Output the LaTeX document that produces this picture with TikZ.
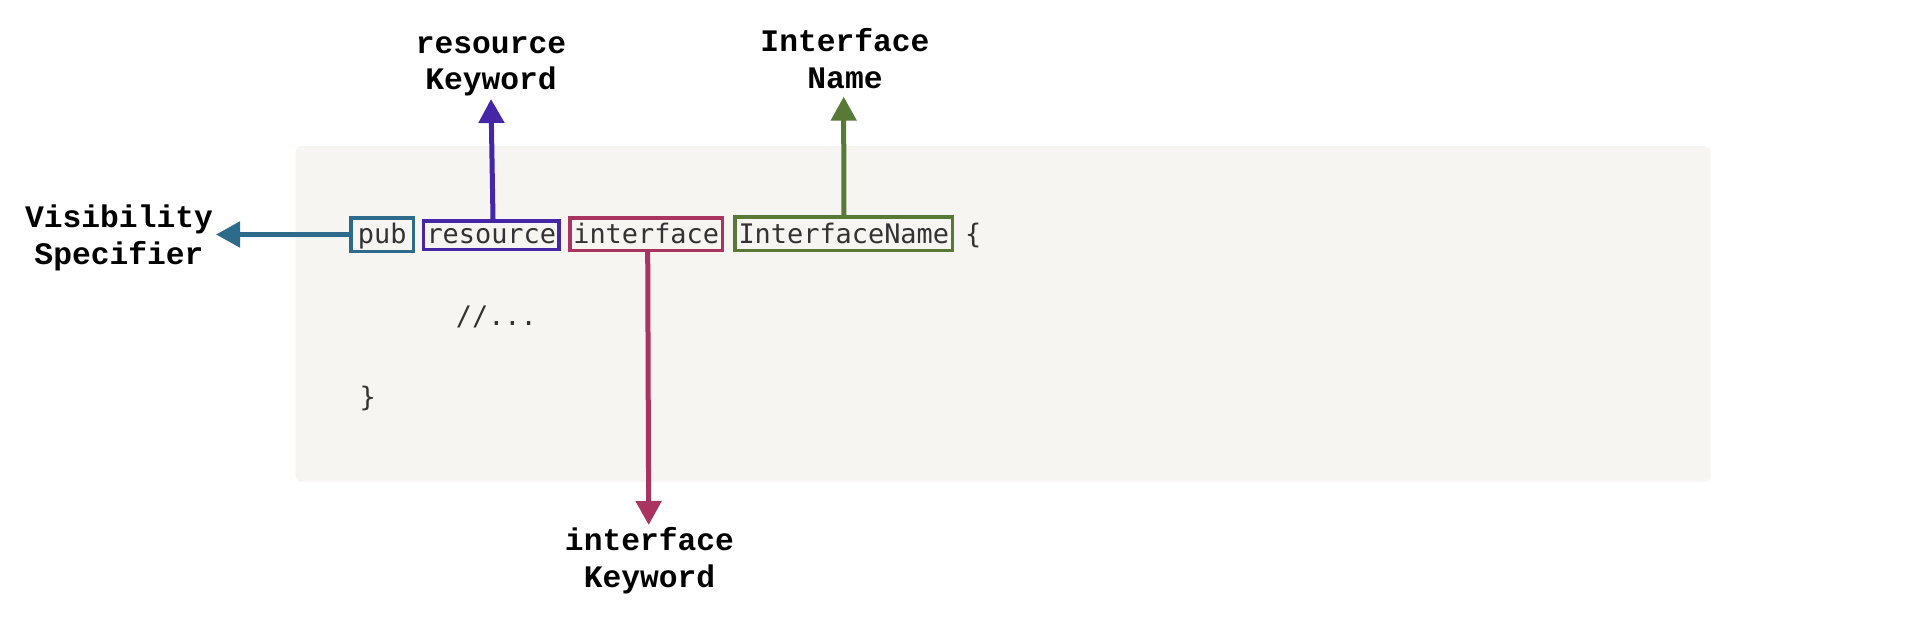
\documentclass[tikz,border=0pt]{standalone}
\usepackage{fontspec}
\usetikzlibrary{arrows.meta}
\newfontfamily\codefont{DejaVu Sans Mono}
\newfontfamily\labelfont{Liberation Mono}
\definecolor{bgc}{HTML}{F6F5F1}
\definecolor{codec}{HTML}{333333}
\definecolor{tealc}{HTML}{2E6A8A}
\definecolor{purplec}{HTML}{4526A6}
\definecolor{magc}{HTML}{A8345F}
\definecolor{greenc}{HTML}{587A36}
\begin{document}
\begin{tikzpicture}[x=1pt,y=-1pt,
  tok/.style={font=\codefont\fontsize{26.9}{30}\selectfont, text=codec, inner sep=0pt, line width=3.5pt, fill=bgc, anchor=base},
  plain/.style={font=\codefont\fontsize{26.9}{30}\selectfont, text=codec, inner sep=0pt, anchor=base west},
  arr/.style={line width=5pt, -{Triangle[length=24pt,width=25pt]}},
  lab/.style={font=\labelfont\bfseries\fontsize{31.3}{36.5}\selectfont, align=center, inner sep=0pt, text=black, anchor=base}]
\useasboundingbox (0,0) rectangle (1909,629);
\fill[bgc, rounded corners=6pt] (295.7,146) rectangle (1710.7,481.7);
% code tokens
\node[tok, draw=tealc, minimum width=62.5pt, text height=25.75pt, text depth=7.75pt] (pub) at (382.2,243.5) {pub};
\node[tok, draw=purplec, minimum width=135.8pt, text height=22.75pt, text depth=5.75pt] (res) at (491.3,243.5) {resource};
\node[tok, draw=magc, minimum width=152.2pt, text height=25.75pt, text depth=6.75pt] (intf) at (646.2,243.5) {interface};
\node[tok, draw=greenc, minimum width=217.5pt, text height=26.75pt, text depth=7.05pt] (iname) at (843.8,243.5) {InterfaceName};
\node[plain] (lbrace) at (965,243.5) {\{};
\node[plain] (comment) at (455.7,325) {//...};
\node[plain] (rbrace) at (359.5,406) {\}};
% labels
\node[lab] (vis) at (119,264) {Visibility\\Specifier};
\node[lab] (reskw) at (491,89.5) {resource\\Keyword};
\node[lab] (inlab) at (845,88) {Interface\\Name};
\node[lab] (intkw) at (649.5,587) {interface\\Keyword};
% arrow tips
\coordinate (vtip) at (216,234.5);
\coordinate (rtip) at (491,99);
\coordinate (ntip) at (843.7,96.7);
\coordinate (itip) at (648.7,525);
% connectors
\draw[arr, tealc] (pub.west) -- (vtip);
\draw[arr, purplec] ([xshift=1.7pt]res.north) -- (rtip);
\draw[arr, greenc] (iname.north) -- (ntip);
\draw[arr, magc] ([xshift=1.5pt]intf.south) -- (itip);
\end{tikzpicture}
\end{document}
